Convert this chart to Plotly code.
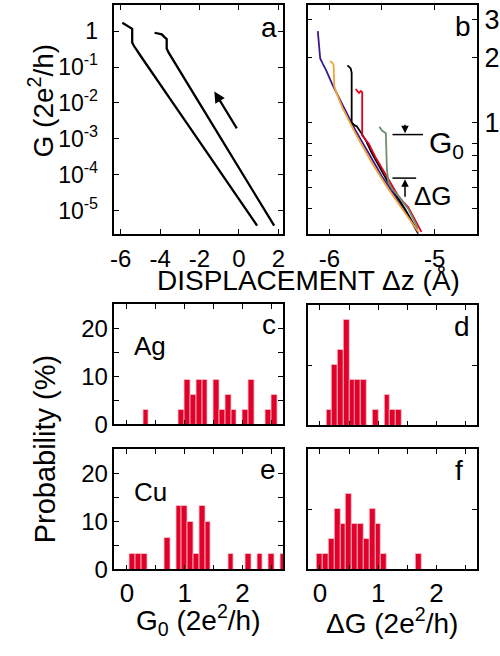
import plotly.graph_objects as go

W, H = 500, 656
FONT = "Liberation Sans, Arial, Helvetica, sans-serif"

# ---------------- data ----------------
# panel a: conductance traces (displacement in Angstrom, G in 2e^2/h)
a1_z = [-5.915, -5.5, -5.415, -5.415, -5.33, -4.95, -4.62, -4.56, -3.5, -2.0, -0.5, 0.92]
a1_G = [1.7, 1.24, 1.16, 0.48, 0.39, 0.19, 0.105, 0.087, 0.0132, 8.3e-4, 5.2e-5, 3.8e-6]
a2_z = [-4.28, -3.915, -3.75, -3.665, -3.665, -3.58, -2.5, -1.0, 0.5, 1.785]
a2_G = [0.90, 0.81, 0.66, 0.60, 0.33, 0.26, 0.0274, 1.22e-3, 5.47e-5, 3.8e-6]
a_ticks = [1e-5, 1e-4, 1e-3, 1e-2, 1e-1, 1]
a_ticktext = ["10<sup>-5</sup>", "10<sup>-4</sup>", "10<sup>-3</sup>", "10<sup>-2</sup>", "10<sup>-1</sup>", "1"]
a_xticks = [-6, -4, -2, 0, 2]
a_xticktext = ["-6", "-4", "-2", "0", "2"]

# panel b: individual traces near the first plateau
purple_z = [-6.11, -6.087, -6.062, -6.031, -5.969, -5.875, -5.75, -5.625, -5.5, -5.375, -5.25, -5.156]
purple_G = [2.65, 1.98, 1.87, 1.75, 1.49, 1.21, 0.917, 0.718, 0.562, 0.456, 0.370, 0.305]
orange_z = [-5.994, -5.975, -5.96, -5.953, -5.93, -5.875, -5.75, -5.594, -5.438, -5.281, -5.15]
orange_G = [1.92, 1.90, 1.85, 1.47, 1.36, 1.17, 0.885, 0.647, 0.49, 0.383, 0.309]
black_z = [-5.828, -5.81, -5.797, -5.788, -5.788, -5.76, -5.74, -5.70, -5.65, -5.594, -5.52, -5.438, -5.281, -5.156]
black_G = [1.84, 1.80, 1.78, 1.70, 1.00, 0.97, 0.96, 0.90, 0.82, 0.718, 0.62, 0.524, 0.397, 0.309]
red_z = [-5.75, -5.735, -5.719, -5.70, -5.688, -5.688, -5.66, -5.625, -5.563, -5.469, -5.40, -5.344, -5.30, -5.25, -5.125]
red_G = [1.43, 1.40, 1.37, 1.40, 1.38, 0.87, 0.84, 0.797, 0.693, 0.582, 0.51, 0.456, 0.43, 0.405, 0.311]
green_z = [-5.525, -5.51, -5.5, -5.463, -5.453, -5.438, -5.40, -5.344, -5.25, -5.156]
green_G = [0.956, 0.93, 0.917, 0.891, 0.603, 0.524, 0.49, 0.456, 0.397, 0.322]
b_ticks = [1, 2, 3]
b_ticktext = ["1", "2", "3"]
b_minor = [0.4, 0.5, 0.6, 0.7, 0.8]

# histograms (probability in %)
c_G0 = [0.33, 0.95, 1.05, 1.15, 1.25, 1.35, 1.55, 1.65, 1.75, 1.85, 2.05, 2.15, 2.45, 2.55]
c_p = [3.1, 3.1, 9.3, 6.2, 9.3, 9.3, 9.3, 3.1, 6.2, 3.1, 3.1, 9.3, 3.1, 6.2]
d_dG = [0.16, 0.26, 0.36, 0.46, 0.555, 0.65, 0.745, 0.95, 1.155, 1.25, 1.35]
d_p = [2.5, 10, 12.5, 17.5, 7.5, 7.5, 7.5, 2.5, 5, 2.5, 2.5]
e_G0 = [0.09, 0.195, 0.30, 0.7, 0.9, 1.0, 1.1, 1.2, 1.3, 1.4, 1.8, 2.1, 2.3, 2.5, 2.71]
e_p = [3.3, 3.3, 3.3, 6.7, 13.3, 13.3, 10, 3.3, 13.3, 10, 3.3, 3.3, 3.3, 3.3, 3.3]
f_dG = [0.0, 0.1, 0.2, 0.3, 0.4, 0.5, 0.6, 0.7, 0.8, 0.9, 1.0, 1.1, 1.7]
f_p = [2.5, 2.5, 5, 10, 7.5, 12.5, 7.5, 7.5, 5, 10, 7.5, 2.5, 2.5]
bin_width = 0.1
h_xticks = [0, 1, 2]
h_xticktext = ["0", "1", "2"]
h_xminor = [0.5, 1.5, 2.5]
h_yticks = [0, 10, 20]
h_yticktext = ["0", "10", "20"]
h_yminor = [5, 15]

BAR = "#E0002A"

# ---------------- helpers ----------------
def dx(a, b):
    return [a / W, b / W]

def dy(top, bottom):
    return [1 - bottom / H, 1 - top / H]

def px(x):
    return x / W

def py(y):
    return 1 - y / H

fig = go.Figure()

def line(xs, ys, color, width, xa, ya):
    fig.add_trace(go.Scatter(x=xs, y=ys, mode="lines", line=dict(color=color, width=width),
                             xaxis=xa, yaxis=ya, showlegend=False, hoverinfo="skip"))

line(a1_z, a1_G, "black", 2.3, "x", "y")
line(a2_z, a2_G, "black", 2.3, "x", "y")

line(purple_z, purple_G, "#3B1A8F", 1.8, "x2", "y2")
line(black_z, black_G, "black", 1.8, "x2", "y2")
line(red_z, red_G, "#E2001F", 1.8, "x2", "y2")
line(orange_z, orange_G, "#F2A33A", 1.8, "x2", "y2")
line(green_z, green_G, "#6E8F72", 1.8, "x2", "y2")

def bars(xs, ys, xa, ya):
    fig.add_trace(go.Bar(x=xs, y=ys, width=[bin_width] * len(xs), xaxis=xa, yaxis=ya,
                         marker=dict(color=BAR, line=dict(color="#F7C4CB", width=0.8)),
                         showlegend=False, hoverinfo="skip"))

bars(c_G0, c_p, "x3", "y3")
bars(d_dG, d_p, "x4", "y4")
bars(e_G0, e_p, "x5", "y5")
bars(f_dG, f_p, "x6", "y6")

common = dict(showline=True, linecolor="black", linewidth=1.6, mirror="ticks",
              ticks="inside", ticklen=5, tickwidth=1.4, tickcolor="black",
              showgrid=False, zeroline=False, tickfont=dict(family=FONT, size=24, color="black"))

def minor(vals):
    return dict(tickmode="array", tickvals=vals, ticks="inside", ticklen=5, tickwidth=1.4,
                tickcolor="black", showgrid=False)

layout = dict(
    width=W, height=H, margin=dict(l=0, r=0, t=0, b=0),
    paper_bgcolor="white", plot_bgcolor="white", bargap=0,
    font=dict(family=FONT, color="black"),
    xaxis=dict(common, domain=dx(112, 283), range=[-6.315, 2.235], tickmode="array",
               tickvals=a_xticks, ticktext=a_xticktext, tickfont=dict(family=FONT, size=24),
               anchor="y", ticklabelstandoff=2),
    yaxis=dict(common, domain=dy(5, 239), type="log", range=[-5.66, 0.73], tickmode="array",
               tickvals=a_ticks, ticktext=a_ticktext, tickfont=dict(family=FONT, size=23),
               anchor="x", ticklabelstandoff=10),
    xaxis2=dict(common, domain=dx(308, 480), range=[-6.206, -4.594], tickmode="array",
                tickvals=[-6, -5], ticktext=["-6", "-5"], tickfont=dict(family=FONT, size=24),
                anchor="y2", minor=minor([-5.5]), ticklabelstandoff=2),
    yaxis2=dict(common, domain=dy(5, 239), type="log", range=[-0.518, 0.545], tickmode="array",
                tickvals=b_ticks, ticktext=b_ticktext, side="right", tickfont=dict(family=FONT, size=27),
                anchor="x2", minor=minor(b_minor)),
    xaxis3=dict(common, domain=dx(112, 283), range=[-0.215, 2.70], tickmode="array",
                tickvals=h_xticks, showticklabels=False, anchor="y3", minor=minor(h_xminor)),
    yaxis3=dict(common, domain=dy(310, 433), range=[0, 25.2], tickmode="array",
                tickvals=h_yticks, ticktext=h_yticktext, anchor="x3", minor=minor(h_yminor)),
    xaxis4=dict(common, domain=dx(308, 480), range=[-0.21, 2.70], tickmode="array",
                tickvals=h_xticks, showticklabels=False, anchor="y4", minor=minor(h_xminor)),
    yaxis4=dict(common, domain=dy(311, 434), range=[0, 20], tickmode="array",
                tickvals=[10], showticklabels=False, anchor="x4"),
    xaxis5=dict(common, domain=dx(112, 283), range=[-0.215, 2.70], tickmode="array",
                tickvals=h_xticks, ticktext=h_xticktext, tickfont=dict(family=FONT, size=26),
                anchor="y5", minor=minor(h_xminor)),
    yaxis5=dict(common, domain=dy(458, 581), range=[0, 25.2], tickmode="array",
                tickvals=h_yticks, ticktext=h_yticktext, anchor="x5", minor=minor(h_yminor)),
    xaxis6=dict(common, domain=dx(308, 480), range=[-0.21, 2.70], tickmode="array",
                tickvals=h_xticks, ticktext=h_xticktext, tickfont=dict(family=FONT, size=26),
                anchor="y6", minor=minor(h_xminor)),
    yaxis6=dict(common, domain=dy(458, 581), range=[0, 20], tickmode="array",
                tickvals=[10], showticklabels=False, anchor="x6"),
)
fig.update_layout(**layout)

def text(s, x, y, size, xanchor="center", angle=0):
    fig.add_annotation(text=s, x=px(x), y=py(y), xref="paper", yref="paper", showarrow=False,
                       xanchor=xanchor, yanchor="middle", textangle=angle,
                       font=dict(family=FONT, size=size, color="black"))

# panel letters and labels
text("a", 269, 28, 28)
text("b", 466, 27, 28)
text("c", 269, 331, 28)
text("d", 465, 333, 28)
text("e", 268, 479, 28)
text("f", 461, 480, 28)
text("Ag", 148, 353, 26)
text("Cu", 149, 502, 26)

# axis titles
text("G (2e<sup>2</sup>/h)", 38, 102, 28, angle=-90)
text("DISPLACEMENT \u0394z (\u00c5)", 309, 286, 28)
text("Probability (%)", 41, 458, 29, angle=-90)
text("G<sub>0</sub> (2e<sup>2</sup>/h)", 197, 633, 28)
text("\u0394G (2e<sup>2</sup>/h)", 394, 634, 28)

# annotations in panel b
text("G<sub>0</sub>", 429, 147, 30, xanchor="left")
text("\u0394G", 414, 200, 26, xanchor="left")
fig.add_shape(type="line", xref="paper", yref="paper", x0=px(394), x1=px(425), y0=py(137.3), y1=py(137.3),
              line=dict(color="black", width=1.5))
fig.add_shape(type="line", xref="paper", yref="paper", x0=px(394), x1=px(418), y0=py(181.7), y1=py(181.7),
              line=dict(color="black", width=1.5))

def arrow(hx, hy, tx, ty, width, size):
    fig.add_annotation(x=px(hx), y=py(hy), xref="paper", yref="paper", ax=tx - hx, ay=ty - hy,
                       axref="pixel", ayref="pixel", showarrow=True, arrowhead=2, arrowsize=size,
                       arrowwidth=width, arrowcolor="black", text="")

arrow(406.7, 136, 406.7, 126, 1.5, 1.0)
arrow(406.7, 183, 406.7, 202, 1.5, 1.0)
# arrow in panel a
arrow(213.3, 93.3, 236.7, 131.7, 2.2, 1.0)

fig.write_html("out.html", config={"displayModeBar": False},
               post_script="document.body.style.margin='0px';")
